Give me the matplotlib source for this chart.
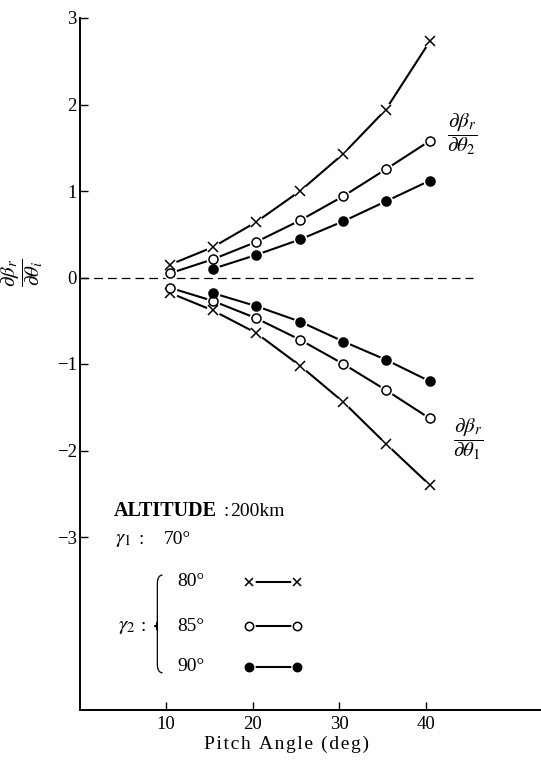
import matplotlib.pyplot as plt
from matplotlib.path import Path
from matplotlib.patches import PathPatch

OUTPUT = "out.png"

# Pitch angle (deg) at which the points were plotted
pitch = [10.5, 15.4, 20.4, 25.5, 30.5, 35.4, 40.5]
pitch_90 = pitch[1:]

# d(beta_r)/d(theta_2)  (upper branch)
upper_80 = [0.15, 0.35, 0.64, 1.00, 1.43, 1.94, 2.73]
upper_85 = [0.05, 0.21, 0.41, 0.66, 0.94, 1.25, 1.58]
upper_90 = [0.10, 0.26, 0.44, 0.65, 0.88, 1.12]

# d(beta_r)/d(theta_1)  (lower branch)
lower_80 = [-0.18, -0.38, -0.64, -1.02, -1.44, -1.92, -2.40]
lower_85 = [-0.12, -0.27, -0.47, -0.72, -1.00, -1.30, -1.63]
lower_90 = [-0.18, -0.33, -0.51, -0.74, -0.95, -1.20]

gamma2_labels = ["80°", "85°", "90°"]
y_ticks = [3, 2, 1, 0, -1, -2, -3]
x_ticks = [10, 20, 30, 40]

plt.rcParams["font.family"] = ["Liberation Serif", "DejaVu Serif"]
plt.rcParams["mathtext.fontset"] = "stix"

fig = plt.figure(figsize=(5.41, 7.65), dpi=100)
ax = fig.add_axes([79.5 / 541, 55 / 765, 1 - 79.5 / 541, 692 / 765])
ax.set_xlim(0, 53.35)
ax.set_ylim(-5, 3)

for s in ["top", "right"]:
    ax.spines[s].set_visible(False)
ax.spines["left"].set_linewidth(1.4)
ax.spines["bottom"].set_linewidth(1.4)

ax.set_yticks(y_ticks)
ax.set_xticks(x_ticks)
ax.tick_params(axis="both", direction="in", length=6, width=1.0, labelsize=13.5)
ax.tick_params(axis="y", pad=2)
ax.tick_params(axis="x", pad=4)

# zero line
ax.plot([0, 45.5], [0, 0], color="black", linewidth=0.9, linestyle=(0, (7, 4)))


def series(x, y, marker, face):
    ax.plot(x, y, color="black", linewidth=1.5, zorder=2)
    # white blobs give the little gaps where the line meets a marker
    ax.plot(x, y, linestyle="none", marker="o", markersize=10,
            markerfacecolor="white", markeredgecolor="none", zorder=3)
    ax.plot(x, y, linestyle="none", marker=marker, markersize=6.5,
            markerfacecolor=face, markeredgecolor="black",
            markeredgewidth=1.1, zorder=4)


series(pitch, upper_80, "x", "black")
series(pitch, upper_85, "o", "white")
series(pitch_90, upper_90, "o", "black")
series(pitch, lower_80, "x", "black")
series(pitch, lower_85, "o", "white")
series(pitch_90, lower_90, "o", "black")

# curve labels
ax.text(44.2, 1.65, r"$\dfrac{\partial\beta_r}{\partial\theta_2}$", fontsize=15,
        ha="center", va="center")
ax.text(44.9, -1.87, r"$\dfrac{\partial\beta_r}{\partial\theta_1}$", fontsize=15,
        ha="center", va="center")

# axis labels
fig.text(22 / 541, 1 - 273 / 765, r"$\dfrac{\partial\beta_r}{\partial\theta_i}$",
         fontsize=15, rotation=90, ha="center", va="center")
fig.text(286 / 541, 1 - 744 / 765, "\u200a".join("Pitch Angle (deg)"),
         fontsize=14, ha="center", va="center")

# key
ax.text(4.0, -2.70, "ALTITUDE", fontsize=14.5, fontweight="bold", ha="left", va="center")
ax.text(16.7, -2.70, ":", fontsize=14, ha="left", va="center")
ax.text(17.4, -2.70, "200km", fontsize=14, ha="left", va="center")
ax.text(4.1, -3.03, r"$\gamma_1$", fontsize=15, ha="left", va="center")
ax.text(6.8, -3.03, ":", fontsize=14, ha="left", va="center")
ax.text(9.7, -3.03, "70°", fontsize=14, ha="left", va="center")
ax.text(4.4, -4.03, r"$\gamma_2$", fontsize=15, ha="left", va="center")
ax.text(7.1, -4.03, ":", fontsize=14, ha="left", va="center")

# curly brace
bx, btop, bmid, bbot = 9.0, -3.44, -4.03, -4.57
verts = [(bx + 0.6, btop), (bx, btop), (bx, btop - 0.1),
         (bx, bmid - 0.05), (bx, bmid), (bx - 0.35, bmid),
         (bx, bmid), (bx, bmid + 0.05),
         (bx, bbot + 0.1), (bx, bbot), (bx + 0.6, bbot)]
codes = [Path.MOVETO, Path.CURVE3, Path.CURVE3,
         Path.LINETO, Path.CURVE3, Path.CURVE3,
         Path.CURVE3, Path.CURVE3,
         Path.LINETO, Path.CURVE3, Path.CURVE3]
ax.add_patch(PathPatch(Path(verts, codes), facecolor="none", edgecolor="black",
                       linewidth=0.9, joinstyle="miter"))

key_y = [-3.52, -4.03, -4.50]
key_marker = [("x", "black"), ("o", "white"), ("o", "black")]
for lab, yy, (m, f) in zip(gamma2_labels, key_y, key_marker):
    ax.text(11.3, yy, lab, fontsize=14, ha="left", va="center")
    ax.plot([19.6, 25.1], [yy, yy], color="black", linewidth=1.5, zorder=2)
    ax.plot([19.6, 25.1], [yy, yy], linestyle="none", marker="o", markersize=9,
            markerfacecolor="white", markeredgecolor="none", zorder=3)
    ax.plot([19.6, 25.1], [yy, yy], linestyle="none", marker=m, markersize=6,
            markerfacecolor=f, markeredgecolor="black", markeredgewidth=1.1, zorder=4)

plt.savefig(OUTPUT, dpi=100)
